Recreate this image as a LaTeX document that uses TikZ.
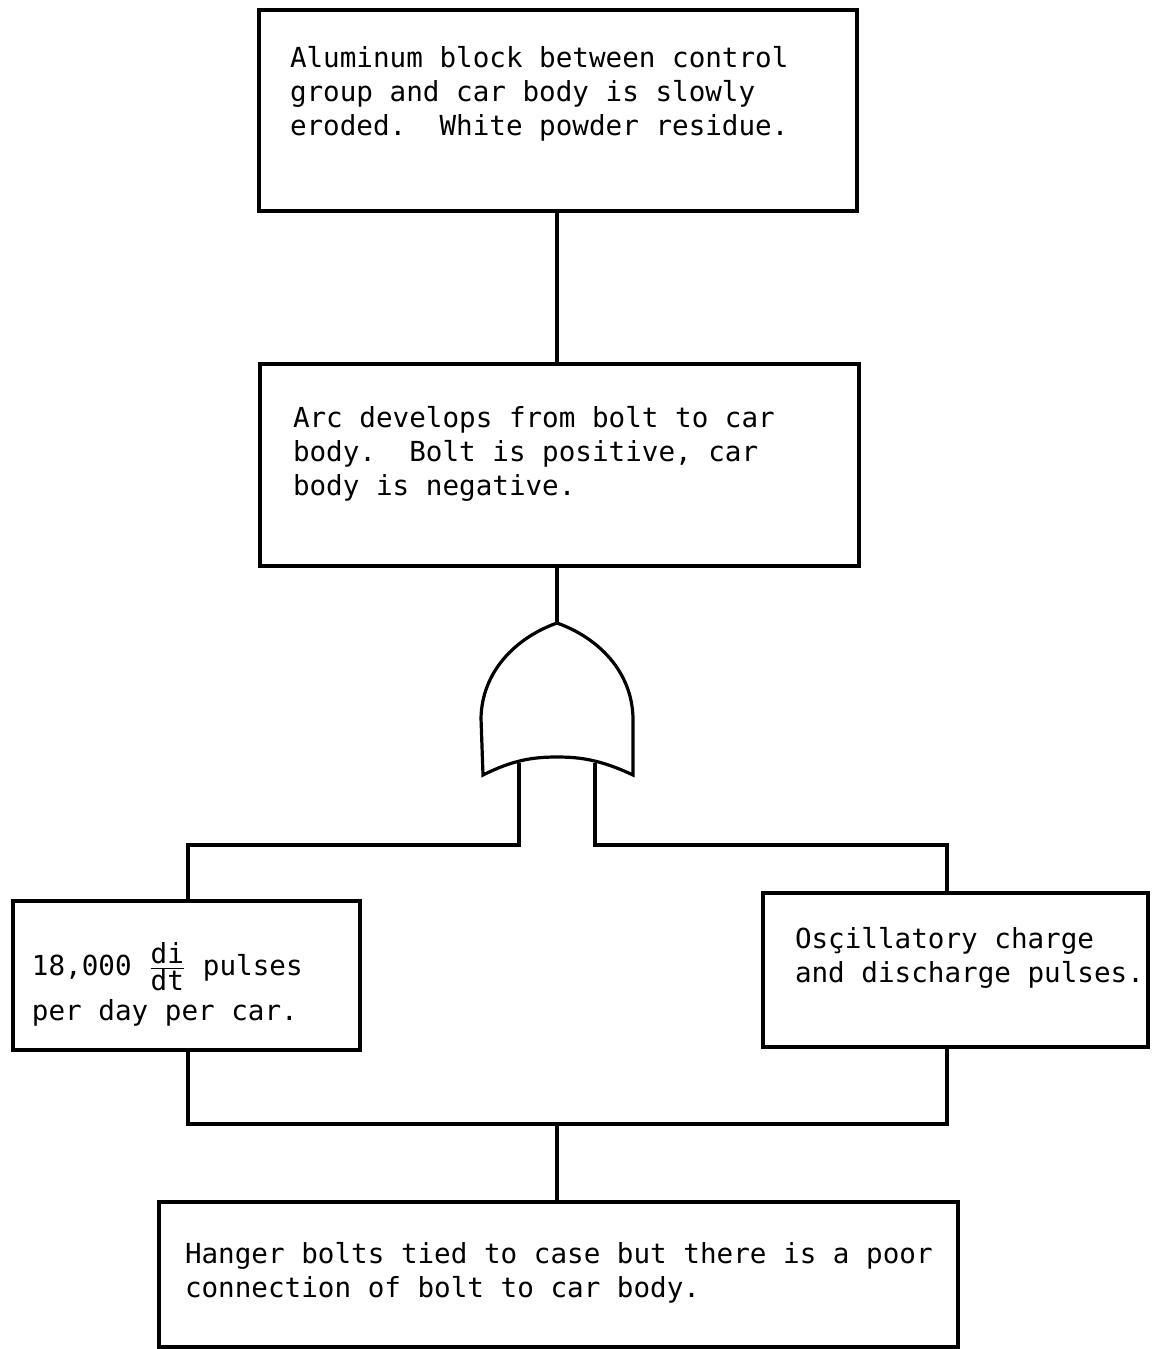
\documentclass[tikz,border=0pt]{standalone}
\usepackage{fontspec}
\setmonofont{DejaVu Sans Mono}
\usepackage{tikz}

\begin{document}
\begin{tikzpicture}[x=0.5pt, y=-0.5pt, line width=1.6pt,
    box/.style={draw=black, rectangle, inner sep=0pt},
    txt/.style={inner sep=0pt, anchor=north west, align=left, font=\ttfamily\fontsize{13.8}{17}\selectfont}]
            \useasboundingbox (0,0) rectangle (1156,1349);
            \node[box, minimum width=299pt, minimum height=100.5pt] (erosion) at (558,110.5) {};
            \node[txt] (erosiontxt) at ([shift={(15.5pt,-18pt)}]erosion.north west) {Aluminum block between control\\group and car body is slowly\\eroded.~~White powder residue.};
            \node[box, minimum width=299.5pt, minimum height=101pt] (arc) at (559.5,465) {};
            \node[txt] (arctxt) at ([shift={(16.5pt,-21pt)}]arc.north west) {Arc develops from bolt to car\\body.~~Bolt is positive, car\\body is negative.};
            \node[box, minimum width=173.5pt, minimum height=74.5pt] (pulses) at (186.5,975.5) {};
            \node[txt] (pulsestxt) at ([shift={(9.5pt,-21pt)}]pulses.north west) {18,000 \(\frac{\mbox{di}}{\mbox{dt}}\) pulses\\[3.5pt]per day per car.};
            \node[box, minimum width=192.5pt, minimum height=77pt] (oscill) at (955.5,970) {};
            \node[txt] (oscilltxt) at ([shift={(16pt,-17pt)}]oscill.north west) {Osçillatory charge\\and discharge pulses.};
            \node[box, minimum width=399.5pt, minimum height=72.5pt] (hanger) at (558.5,1274.5) {};
            \node[txt] (hangertxt) at ([shift={(13pt,-20pt)}]hanger.north west) {Hanger bolts tied to case but there is a poor\\connection of bolt to car body.};
            \coordinate (gatetop) at (557,623);
            \coordinate (leftin) at (519,763);
            \coordinate (rightin) at (595,763);
            \coordinate (joinbus) at (557,1124);
            \draw (erosion.south -| gatetop) -- (arc.north -| gatetop);
            \draw (arc.south -| gatetop) -- (gatetop);
            \draw (gatetop) .. controls (599,638) and (632,672) .. (633,718) -- (633,775)
                .. controls (601,760) and (581,757) .. (557,757)
                .. controls (533,757) and (513,760) .. (483,775) -- (481,718)
                .. controls (482,672) and (515,638) .. (gatetop) -- cycle;
            \draw (leftin) -- (519,845) -| (pulses.north -| 188,0);
            \draw (rightin) -- (595,845) -| (oscill.north -| 947,0);
            \draw (pulses.south -| 188,0) |- (joinbus) -| (oscill.south -| 947,0);
            \draw (joinbus) -- (hanger.north -| joinbus);
        \end{tikzpicture}
\end{document}
